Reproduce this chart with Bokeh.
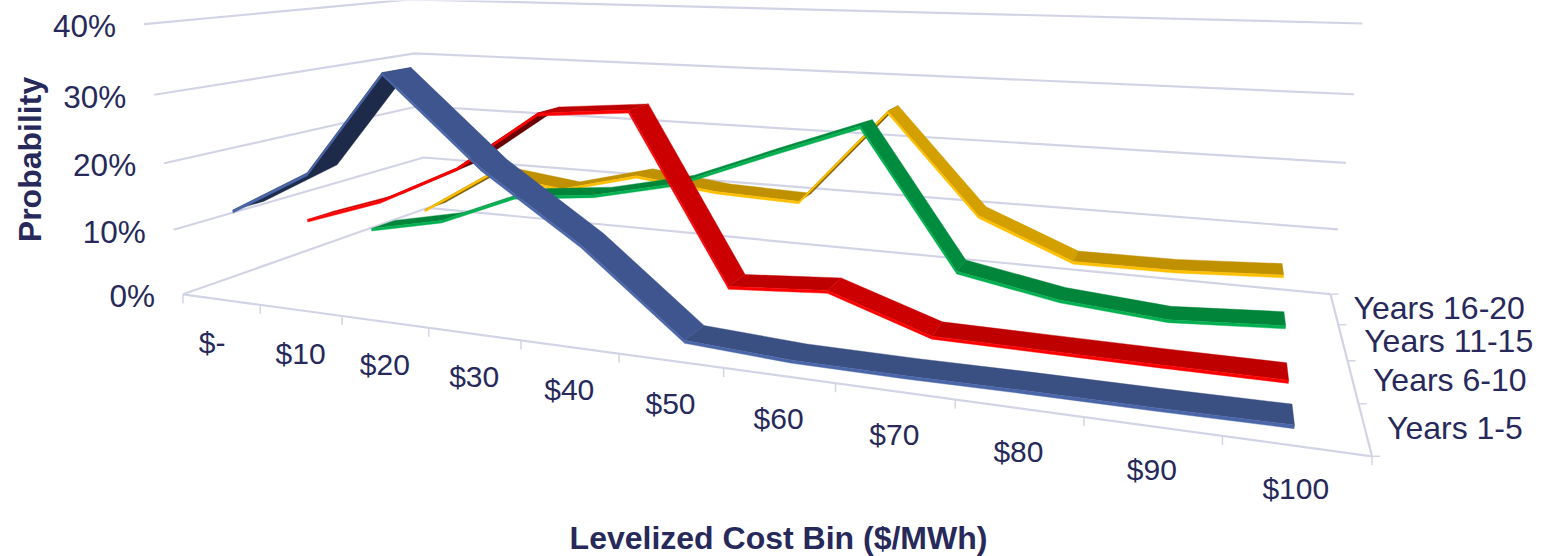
import numpy as np
from bokeh.plotting import figure
from bokeh.core.properties import value
from bokeh.embed import file_html
from bokeh.resources import INLINE

W, H = 1545, 556

# Chart content
cost_bins = ["$-", "$10", "$20", "$30", "$40", "$50", "$60", "$70", "$80", "$90", "$100"]
periods = ["Years 1-5", "Years 6-10", "Years 11-15", "Years 16-20"]
pct_ticks = [0, 10, 20, 30, 40]
years_1_5 = [12.6, 19.3, 34.2, 22.1, 12.8, 1.3, 0.5, 0.4, 0.5, 0.5, 0.6]
years_6_10 = [7.7, 12.0, 18.2, 27.3, 28.5, 4.3, 5.3, 0.5, 0.4, 0.3, 0.3]
years_11_15 = [2.6, 5.3, 10.6, 12.0, 15.0, 20.4, 25.6, 5.4, 2.7, 1.5, 2.4]
years_16_20 = [2.6, 10.5, 8.8, 12.2, 10.6, 10.1, 25.6, 10.2, 4.3, 4.4, 5.2]
series = [years_1_5, years_6_10, years_11_15, years_16_20]

# Per-series shades: steep top, flat top, front edge, underside
shades = [
    ("#3F558F", "#3A4F82", "#4A66A8", "#1E2A4A"),
    ("#CC0000", "#BF0000", "#FF0000", "#6B0000"),
    ("#008C3E", "#00853A", "#00B050", "#004F22"),
    ("#D4A000", "#BF9000", "#FFC000", "#7F6000"),
]
GRID = "#D2D4E6"
INK = "#26295A"
FONT = "Liberation Sans"

# Camera calibration: where the box of the 3D scene sits on the page
x_axis_px = [183, 260, 342, 429, 521, 619, 723, 835, 955, 1083, 1221, 1371]
z_axis_py = [457, 402, 360, 324, 293]
wall_px = {
    0: ((183, 293), (425, 208), (1330, 293)),
    10: ((173, 230), (423, 157), (1338, 229)),
    20: ((163, 163), (420, 107), (1346, 163)),
    30: ((153, 95), (415, 52), (1353, 94)),
    40: ((143, 23), (410, -1), (1361, 22)),
}
NX, NZ, NV = len(cost_bins), len(periods), 40
anchors = [(i, 0, 0, u, 293 + 0.138 * (u - 183)) for i, u in enumerate(x_axis_px)]
anchors += [(NX, k, 0, 1372 - 42 * (457 - y) / 164, y) for k, y in enumerate(z_axis_py)]
for v, (a, b, c) in wall_px.items():
    anchors += [(0, 0, v, *a), (0, NZ, v, *b), (NX, NZ, v, *c)]

rows = []
for X, Z, V, u, t in anchors:
    X, Z, V, u, t = X / NX, Z / NZ, V / NV, u / 1000, t / 1000
    rows.append([X, Z, V, 1, 0, 0, 0, 0, -u * X, -u * Z, -u * V, -u])
    rows.append([0, 0, 0, 0, X, Z, V, 1, -t * X, -t * Z, -t * V, -t])
CAMERA = np.linalg.svd(np.array(rows))[2][-1].reshape(3, 4)


def project(x, z, v):
    q = CAMERA @ np.array([x / NX, z / NZ, v / NV, 1.0])
    return q[0] / q[2] * 1000, q[1] / q[2] * 1000


RIBBON = 0.21  # half depth of a ribbon
EDGE = 0.42  # thickness of a ribbon, in percentage points

p = figure(width=W, height=H, x_range=(0, W), y_range=(H, 0), output_backend="svg",
           toolbar_location=None, min_border=0)
p.axis.visible = False
p.grid.visible = False
p.outline_line_color = None


def polyline(points, width=2.2):
    p.line([a for a, _ in points], [b for _, b in points], line_color=GRID, line_width=width)


# Walls and floor
for v in pct_ticks:
    polyline([project(0, 0, v), project(0, NZ, v), project(NX, NZ, v)])
polyline([project(0, 0, 0), project(NX, 0, 0), project(NX, NZ, 0)])

# Tick marks
for i in range(NX + 1):
    x, y = project(i, 0, 0)
    polyline([(x, y), (x, y + 9)], 1.5)
for k in range(NZ + 1):
    x, y = project(NX, k, 0)
    polyline([(x, y), (x + 8, y)], 1.5)

# Ribbons, from the back of the scene to the front
xs, ys, fills = [], [], []


def add_polygon(corners, color):
    xs.append([a for a, _ in corners])
    ys.append([b for _, b in corners])
    fills.append(color)


def add_band(vals, i0, i1, z0, z1, dv0, dv1, color):
    # One polygon for a run of same-coloured segments, so no seams show at the joints
    near = [project(i + 0.5, z0, vals[i] + dv0) for i in range(i0, i1 + 1)]
    far = [project(i + 0.5, z1, vals[i] + dv1) for i in range(i1, i0 - 1, -1)]
    add_polygon(near + far, color)


for k in reversed(range(NZ)):
    vals = series[k]
    steep, flat, front, under = shades[k]
    zf, zb = k + 0.5 - RIBBON, k + 0.5 + RIBBON
    colors = []
    for i in range(NX - 1):
        poly = [project(i + 0.5, zf, vals[i]), project(i + 1.5, zf, vals[i + 1]),
                project(i + 1.5, zb, vals[i + 1]), project(i + 0.5, zb, vals[i])]
        area = sum(p1[0] * p2[1] - p2[0] * p1[1] for p1, p2 in zip(poly, poly[1:] + poly[:1]))
        if area > 0:
            colors.append(under)
        else:
            colors.append(steep if abs(vals[i + 1] - vals[i]) > 4 else flat)
    start = 0
    for i in range(1, NX):
        if i == NX - 1 or colors[i] != colors[start]:
            add_band(vals, start, i, zf, zb, 0, 0, colors[start])
            add_band(vals, start, i, zf, zf, 0, -EDGE, front)
            start = i

p.patches(xs, ys, fill_color=fills, line_color=fills, line_width=0.4, fill_alpha=1.0, line_alpha=1.0)


def label(x, y, text, size=30.0, style="normal", align="center", angle=0.0):
    p.text([x], [y], text=[text], text_font=value(FONT), text_font_size=f"{size}px",
           text_font_style=style, text_color=INK, text_align=align,
           text_baseline="middle", angle=angle)


# Percentage labels beside the left wall
for v in pct_ticks:
    x, y = project(0, 0, v)
    label(x - 28, y + 2, f"{v}%", size=31.5, align="right")

# Cost bin labels under the front edge
for i, name in enumerate(cost_bins):
    x, y = project(i + 0.5, 0, 0)
    label(x - (9 if name == "$-" else 0), y + 43, name)

# Period labels beside the depth axis
for k, name in enumerate(periods):
    x, y = project(NX, k + 0.5, 0)
    label(x + [90, 97, 106, 105][k], y - 1, name, size=32)

label(778, 537, "Levelized Cost Bin ($/MWh)", size=32, style="bold")
label(29, 159, "Probability", size=32, style="bold", angle=np.pi / 2)

open("out.html", "w").write(file_html(p, INLINE))
